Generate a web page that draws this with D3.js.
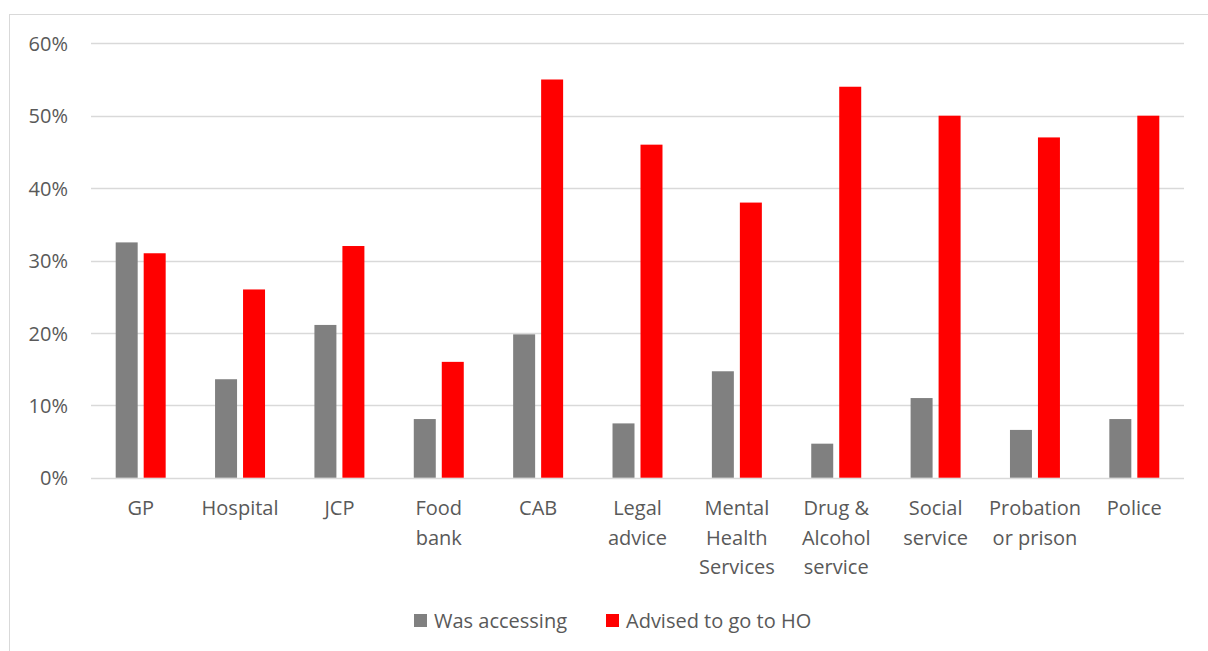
<!DOCTYPE html>
<html>
<head>
<meta charset="utf-8">
<script src="https://cdn.jsdelivr.net/npm/d3@7"></script>
<style>
  html, body { margin: 0; padding: 0; background: #fff; }
  svg { display: block; font-family: "Open Sans", sans-serif; }
</style>
</head>
<body>
<svg id="chart" width="1208" height="651"></svg>
<script>
const categories = ["GP", "Hospital", "JCP", "Food bank", "CAB", "Legal advice",
  "Mental Health Services", "Drug & Alcohol service", "Social service", "Probation or prison", "Police"];
const categoryLines = [["GP"], ["Hospital"], ["JCP"], ["Food", "bank"], ["CAB"], ["Legal", "advice"],
  ["Mental", "Health", "Services"], ["Drug &", "Alcohol", "service"], ["Social", "service"],
  ["Probation", "or prison"], ["Police"]];
const seriesNames = ["Was accessing", "Advised to go to HO"];
const wasAccessing = [32.5, 13.6, 21.1, 8.1, 19.8, 7.5, 14.7, 4.7, 11.0, 6.6, 8.1];
const advisedToHO = [31, 26, 32, 16, 55, 46, 38, 54, 50, 47, 50];
const yTicks = [0, 10, 20, 30, 40, 50, 60];
const colors = ["#808080", "#ff0000"];

const svg = d3.select("#chart");
const textColor = "#595959";
const gridColor = "#d9d9d9";
const fontSize = "20px";

// frame
svg.append("rect").attr("x", 9.5).attr("y", 14.5).attr("width", 1250).attr("height", 700)
  .attr("fill", "none").attr("stroke", gridColor).attr("stroke-width", 1);

const plot = { left: 91, right: 1184, top: 43.3, bottom: 477.7 };

const x0 = d3.scaleBand().domain(categories).range([plot.left, plot.right]).padding(0);
const y = d3.scaleLinear().domain([0, 60]).range([plot.bottom, plot.top]);
const groupW = x0.bandwidth() * 0.503;
const x1 = d3.scaleBand().domain(seriesNames).range([0, groupW]).paddingInner(6 / 28);

// gridlines
svg.append("g").selectAll("line").data(yTicks).join("line")
  .attr("x1", plot.left).attr("x2", plot.right)
  .attr("y1", d => Math.round(y(d)) + 0.5).attr("y2", d => Math.round(y(d)) + 0.5)
  .attr("stroke", gridColor).attr("stroke-width", 1.6);

// y axis labels
const yAxis = d3.axisLeft(y).tickValues(yTicks).tickFormat(d => d + "%").tickSize(0).tickPadding(0);
const yg = svg.append("g").attr("transform", `translate(68,0)`).call(yAxis);
yg.select(".domain").remove();
yg.selectAll("text").attr("fill", textColor).style("font-size", fontSize)
  .style("font-family", "'Open Sans', sans-serif").attr("dy", "0.36em");

// bars
const data = categories.map((c, i) => ({ cat: c, vals: [wasAccessing[i], advisedToHO[i]] }));
const groups = svg.append("g").selectAll("g").data(data).join("g")
  .attr("transform", d => `translate(${x0(d.cat) + (x0.bandwidth() - groupW) / 2},0)`);
groups.selectAll("rect").data(d => d.vals.map((v, j) => ({ s: seriesNames[j], v, j })))
  .join("rect")
  .attr("x", d => x1(d.s))
  .attr("width", x1.bandwidth())
  .attr("y", d => y(d.v))
  .attr("height", d => y(0) - y(d.v))
  .attr("fill", d => colors[d.j]);

// x labels
const xl = svg.append("g");
categories.forEach((c, i) => {
  const t = xl.append("text")
    .attr("x", x0(c) + x0.bandwidth() / 2)
    .attr("y", 515)
    .attr("text-anchor", "middle")
    .attr("fill", textColor)
    .style("font-size", fontSize);
  categoryLines[i].forEach((ln, k) => {
    t.append("tspan").attr("x", x0(c) + x0.bandwidth() / 2).attr("y", 515 + k * 29.7).text(ln);
  });
});

// legend
const legendItems = [
  { name: seriesNames[0], color: colors[0], x: 414 },
  { name: seriesNames[1], color: colors[1], x: 606 }
];
const lg = svg.append("g");
legendItems.forEach(d => {
  lg.append("rect").attr("x", d.x).attr("y", 614).attr("width", 13).attr("height", 13).attr("fill", d.color);
  lg.append("text").attr("x", d.x + 20).attr("y", 628).attr("fill", textColor)
    .style("font-size", fontSize).text(d.name);
});
</script>
</body>
</html>
